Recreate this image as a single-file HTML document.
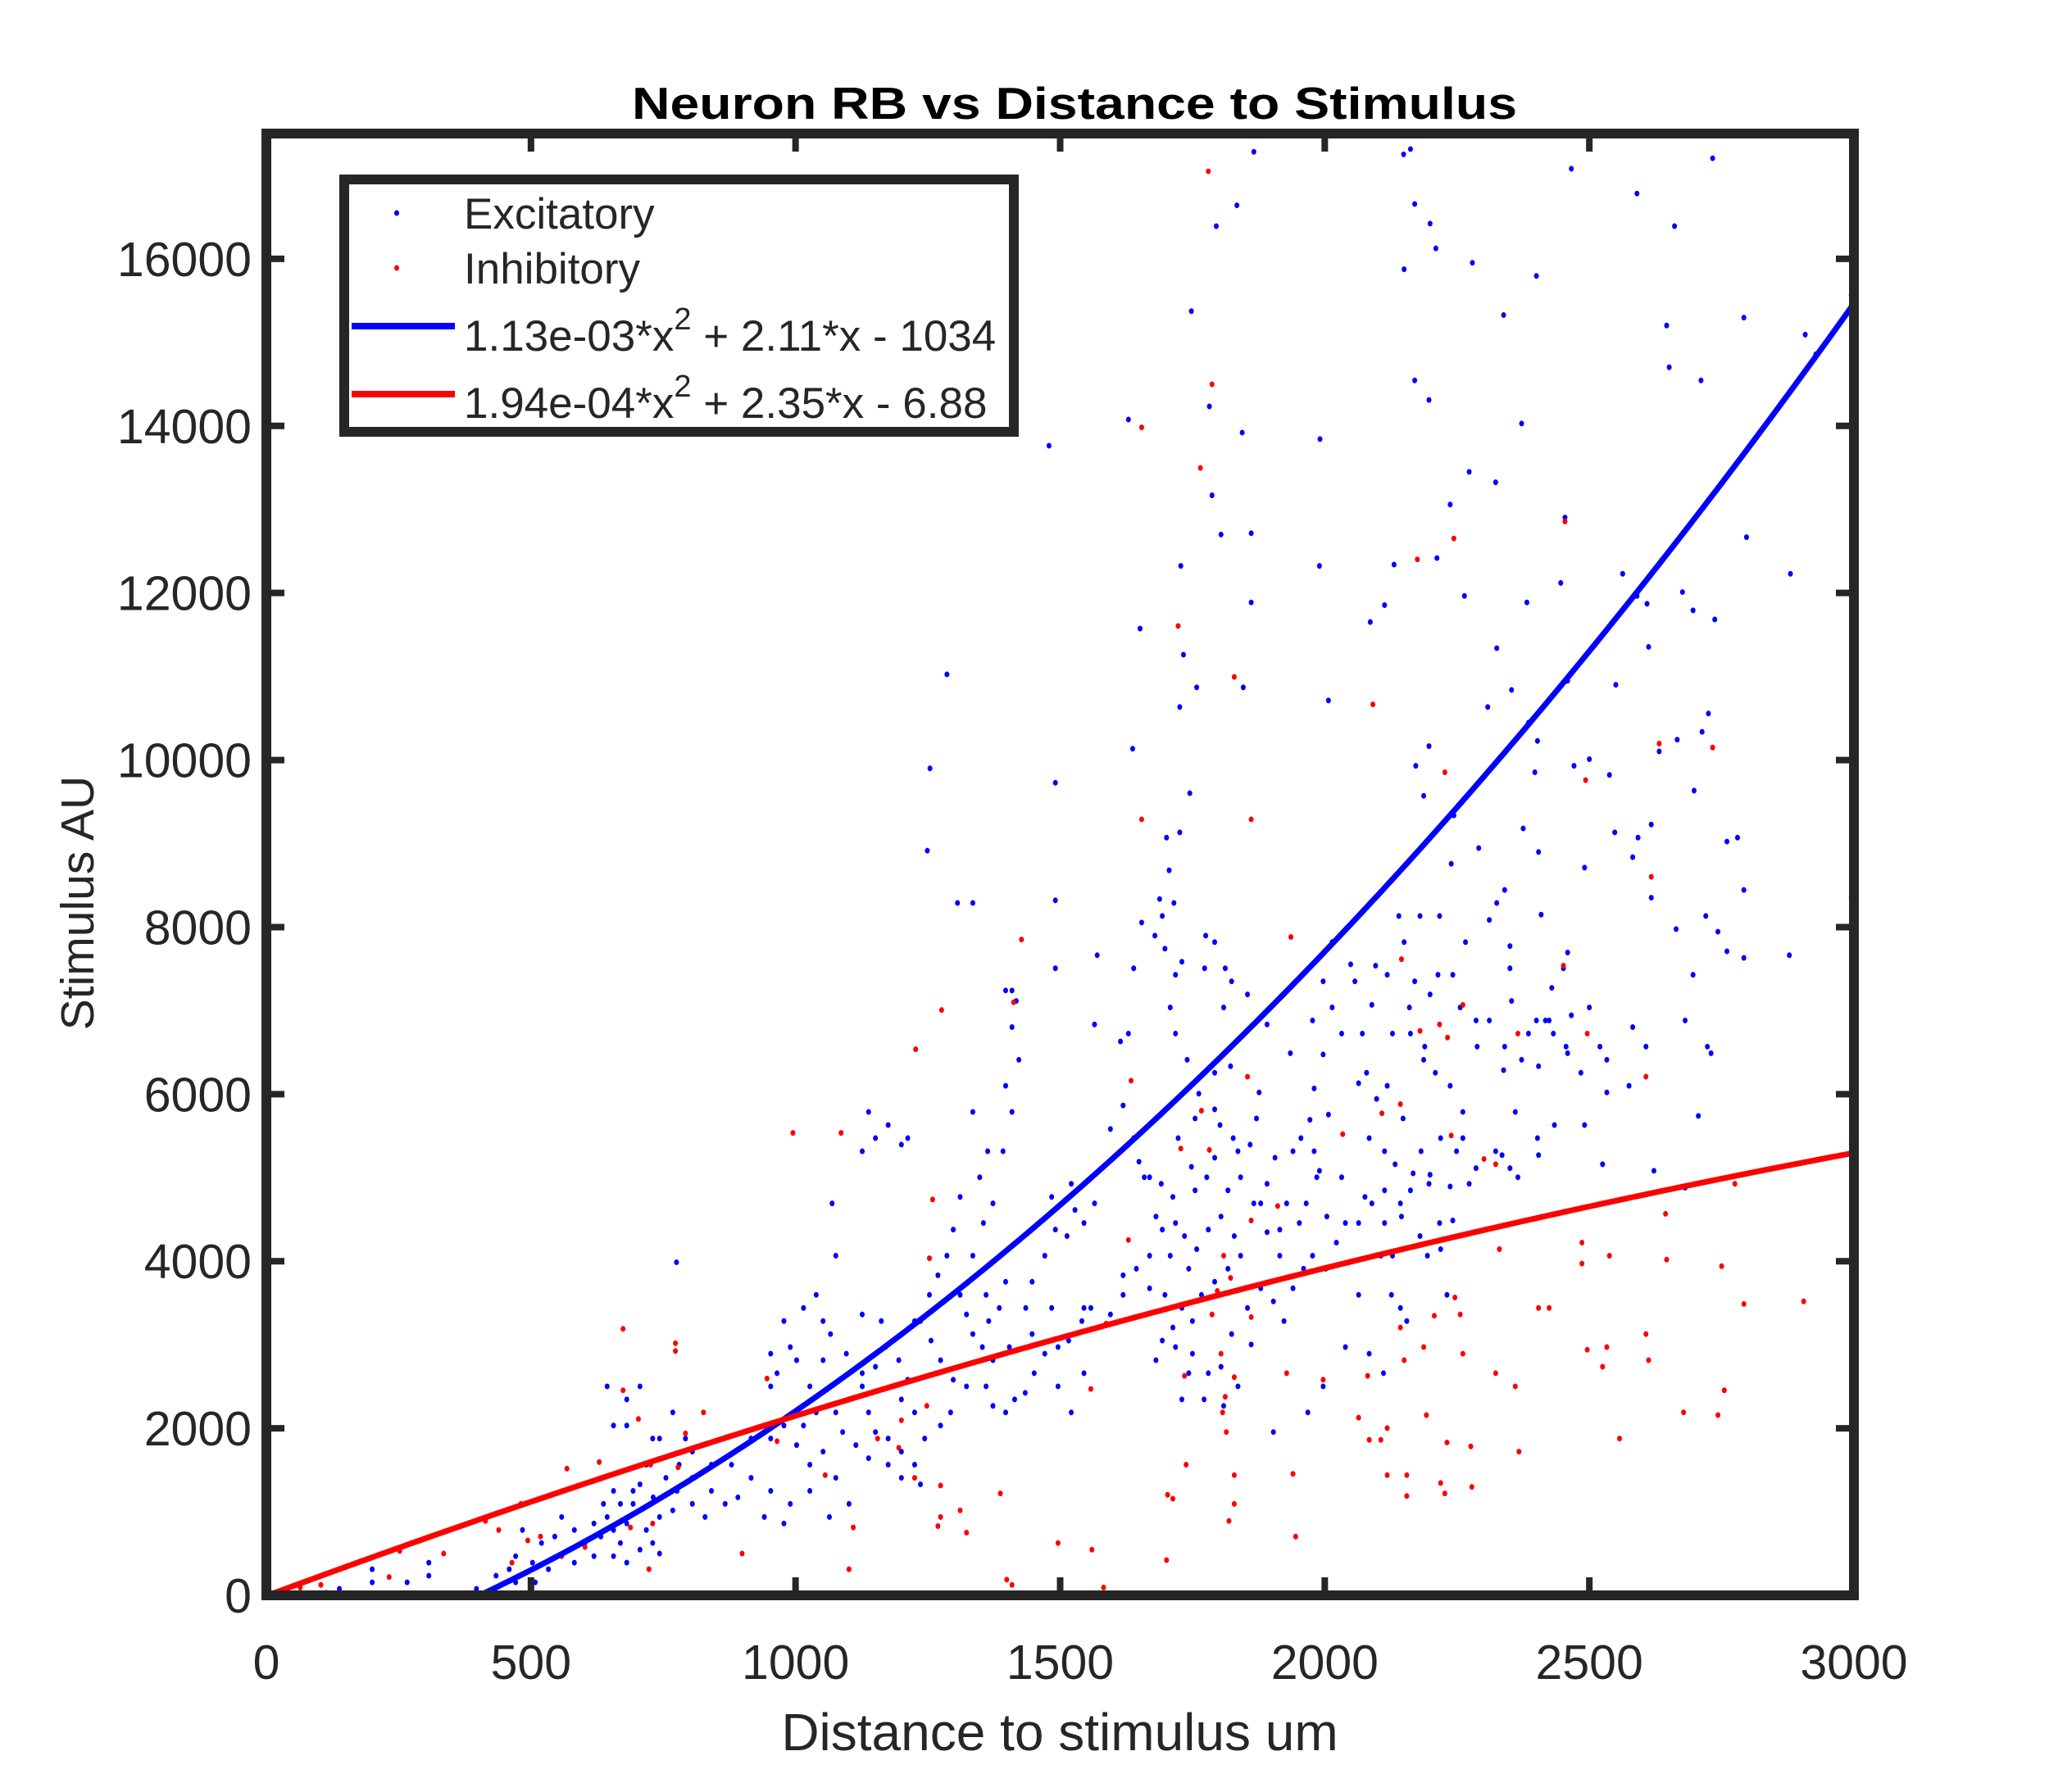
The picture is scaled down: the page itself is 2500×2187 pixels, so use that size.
<!DOCTYPE html>
<html><head><meta charset="utf-8"><style>
html,body{margin:0;padding:0;background:#fff}
svg{display:block}
text{font-family:"Liberation Sans",Arial,sans-serif;fill:#262626}
</style></head><body>
<svg id="chart" width="2500" height="2187" viewBox="0 0 2500 2187" xmlns="http://www.w3.org/2000/svg">
<defs><clipPath id="plotclip"><rect x="325" y="163" width="1937" height="1784"/></clipPath></defs>
<rect x="0" y="0" width="2500" height="2187" fill="#fff"/>
<g id="points" clip-path="url(#plotclip)"></g>
<g id="fits" clip-path="url(#plotclip)"></g>
<g id="axes"></g>
<text x="1311" y="145" text-anchor="middle" font-size="55" font-weight="bold" textLength="1080" lengthAdjust="spacingAndGlyphs" style="fill:#000">Neuron RB vs Distance to Stimulus</text>
<text x="1293" y="2136" text-anchor="middle" font-size="64">Distance to stimulus um</text>
<text x="0" y="0" text-anchor="middle" font-size="57" transform="translate(114,1102) rotate(-90)">Stimulus AU</text>
<g>
<rect x="420" y="219" width="817" height="308" fill="#fff" stroke="#262626" stroke-width="12"/>
<g>
<ellipse cx="484" cy="260" rx="3" ry="3.5" fill="#0000ff"/>
<text x="566" y="279" font-size="53">Excitatory</text></g>
<g>
<ellipse cx="484" cy="327" rx="3" ry="3.5" fill="#ff0000"/>
<text x="566" y="346" font-size="53">Inhibitory</text></g>
<g>
<line x1="429" y1="398" x2="555" y2="398" stroke="#0000ff" stroke-width="8"/>
<text x="566" y="428" font-size="53">1.13e-03*x<tspan font-size="38" dy="-26">2</tspan><tspan dy="26"> + 2.11*x - 1034</tspan></text></g>
<g>
<line x1="429" y1="481" x2="555" y2="481" stroke="#ff0000" stroke-width="8"/>
<text x="566" y="510" font-size="53">1.94e-04*x<tspan font-size="38" dy="-26">2</tspan><tspan dy="26"> + 2.35*x - 6.88</tspan></text></g>
</g>
</svg>
<script>
const xTicks = [0,500,1000,1500,2000,2500,3000];
const yTicks = [0,2000,4000,6000,8000,10000,12000,14000,16000];
const xLim = [0,3000];
const yLim = [0,17500];
const blueCoef = [1.13e-3, 2.11, -1034];
const redCoef = [-1.94e-4, 2.35, -6.88];
const excX = [1390,1866,2149,2162,2170,2199,1834,1795,2466,2590,2661,2733,2150,2210,2279,2400,2338,2646,2651,2711,2792,2908,2928,2995,3000,2880,2797,2737,2170,2197,1748,1195,1479,1629,1782,1844,1991,2273,2323,2237,2372,2454,2563,2609,2676,2696,1787,1804,1728,1861,1990,2113,2131,2212,2264,2382,2446,2325,2353,2385,2402,2550,2590,2612,2459,2471,2538,2666,2725,2713,2698,1861,1651,1846,2007,2086,1733,2197,2172,2308,2397,2187,2244,2291,2375,2404,2340,2325,2239,2217,2266,2311,2350,2409,2491,2548,2592,2500,2632,2780,2760,2792,2743,2760,2792,2696,2681,2723,2730,2706,2575,2582,2520,2533,2525,2491,2456,2432,2424,2400,2466,2459,2451,2429,2350,2353,2385,2372,2338,2340,2288,2286,2256,2242,2214,2199,2160,2170,2150,2140,2180,2118,2089,2096,2049,2057,2014,1997,2014,2032,2071,2079,2098,2128,2162,2189,2209,2187,2237,2261,2261,2219,2182,2148,2118,2064,2007,1972,1955,1980,1990,2032,2084,2113,2133,2113,2143,2167,2199,2162,2076,2039,2004,1952,1928,1940,1906,1891,1866,1836,1827,1802,1792,1792,1822,1809,1824,1854,1891,1977,1997,1980,1935,1876,1871,1859,1841,1817,1792,1777,1755,1748,1723,1755,1762,1740,1718,1708,1698,1679,1688,1706,1701,1726,1745,1775,1792,1812,1773,1730,1718,1693,1715,1654,1639,1629,1614,1639,1649,1669,1691,1713,1681,1718,1735,1758,1780,1804,1829,1841,1817,1792,1767,1743,1708,1693,1669,1644,1669,1698,1730,1750,1713,1693,1718,1750,1780,1804,1824,1854,1879,1903,1923,1861,1836,1809,1772,1743,1681,1619,1595,1558,1541,1516,1496,1484,1513,1545,1565,1521,1528,1484,1491,1471,1447,1435,1447,1471,1451,1434,1414,1397,1373,1360,1373,1353,1335,1323,1311,1360,1397,1385,1365,1404,1335,1355,1373,1348,1363,1335,1397,1409,1397,1417,1422,1409,1392,1311,1298,1286,1269,1253,1236,1256,1274,1298,1323,1293,1274,1244,1225,1200,1212,1195,1170,1151,1126,1138,1151,1175,1200,1225,1236,1200,1175,1138,1114,1089,1076,1101,1126,1096,1066,1052,1027,1039,1015,1002,1027,1052,1076,1101,1064,1027,990,978,953,941,916,891,867,841,829,805,776,768,743,731,755,780,805,792,768,743,718,706,693,681,669,656,681,706,718,730,743,656,644,669,693,656,637,619,602,582,558,545,520,503,484,471,459,434,397,307,307,266,200,200,138,64,113,471,508,533,582,619,632,644,656,681,706,775,681,730,805,841,879,916,953,978,953,965,1002,990,953,978,1015,1039,1052,1076,1069,1126,1151,1175,1200,1212,1138,1126,1162,1225,1249,1254,1286,1306,1335,1409,1491,1491,1491,1570,1565,1595,1619,1659,1619,1545,1496,1521,1545,1730,2039,1997,1968,1903,2064,2106,2128,2126,2143,2155,2084,2111,2231,2273,2323,2286,2335,2365,2404,2311,2360,2417,2402,2404,2434,2459,2484,2500,2533,2607,2617,2582,2617,2664,2720,2878,2622,2681,2350,2249,2237,2197,2242,2217,2219,2194,2180,2145,2113,2089,2064,2022,2046,2002,1977,1960,1940,1915,1891,1879,1915,1965,1985,1637,1726,1758];
const excY = [16766,17282,17251,17314,16657,16422,16641,16391,17079,16782,16391,17204,15875,16125,15953,15796,15327,15202,14702,14545,15296,15093,14858,15562,13529,12230,12668,11683,14545,14311,15374,15421,13763,14076,14233,13920,13842,13450,13325,13059,14029,12903,12230,11871,12011,11792,13169,12700,12324,12715,12324,11855,12340,12418,11965,11887,12121,11339,10839,10447,10229,10901,11965,11355,10948,9931,9822,10244,10557,10338,9634,11887,11574,10870,10713,11652,11261,10166,9931,10635,9853,9572,9337,8946,9181,8899,8445,8289,8758,8133,7820,8086,7773,8149,8712,9134,9071,10010,10104,9071,9024,8445,7945,7710,7632,7429,6882,6569,6490,5740,6100,6803,6569,6021,5161,5630,6569,6725,6882,6882,6944,7695,7507,7273,7507,7116,6725,6412,6287,6569,6569,6882,7038,7429,7429,7194,7038,7351,7820,8133,8133,7429,7069,7538,7554,7351,7820,7351,7038,6725,6725,6256,5943,6725,6725,6569,6256,6412,6100,5787,5474,5474,5317,5709,6100,6131,5756,5693,5474,5317,5083,5005,5474,5317,5161,4848,4692,5052,5036,4848,4770,4457,4535,4457,4692,5317,5239,4927,4692,5317,5474,5630,5818,6256,6334,7038,7351,7194,6835,6882,6475,6068,6490,6021,5709,5396,5005,4848,5239,5005,4848,5130,5474,5709,6006,6412,6725,7038,7742,7898,8336,8680,9071,9134,9603,7898,7820,7507,7507,7585,7429,8133,8289,8055,7507,6725,6631,5474,5192,5005,4927,4770,4535,4457,4301,4144,4379,4535,4301,4066,3910,3754,3597,3910,4066,4379,4066,3910,3676,3597,3441,3284,3206,3050,2972,2893,2659,2737,3128,3441,3676,3519,3284,3003,2502,2268,2346,2659,2815,3597,3363,3441,3284,3050,2972,3441,4301,4457,4692,4927,4614,4770,4379,4066,3754,3441,3128,2893,2659,2424,2346,2190,2268,2502,2815,2972,3128,3363,3597,3597,3754,3441,3284,2972,4066,4457,4692,5005,5317,5787,6100,6803,7241,7116,6412,5787,5317,4770,4379,4066,3832,3597,3284,3050,2815,2581,2502,2190,2033,1877,2190,2346,2581,2815,2972,2737,2502,2190,1955,1877,1720,1564,1329,1407,1564,1642,1799,1955,2190,2346,2659,2893,3128,2815,2502,2190,2033,1799,1564,1720,1407,1095,938,1251,1095,860,1251,938,1407,1173,1095,1251,938,1095,1251,1017,938,1173,1407,1564,1720,1877,2190,1877,1564,1329,1095,860,626,469,391,547,782,626,500,782,938,1095,1251,1251,1095,860,626,782,938,704,626,391,782,469,313,235,78,235,391,156,313,156,78,31,31,156,156,313,391,469,704,2502,2033,2346,2502,3988,2033,1877,1407,1564,1564,1877,1877,2033,2502,2659,2815,2972,2893,3284,3441,3597,3284,4066,4692,5317,5474,5630,5396,5474,5787,3363,3284,3284,8915,9900,11026,8289,8289,7241,7507,8320,9728,7663,6835,5583,5865,5005,3832,2659,2502,2190,3441,2346,2972,2502,2190,1955,3597,4066,4066,3597,3441,3284,2893,2659,3597,4927,5317,5114,5270,5005,5270,6882,5787,6882,5474,6334,5630,6490,6256,7038,6412,6569,8352,8837,9228,7976,8133,7663,5083,4880,5114,5317,4895,4927,4488,4457,4144,4066,4301,4535,4457,4692,4457,4223,3988,3910,4066,3910,3676,4066,4348,4692,4379,4692,5005,10135,10635,10870];
const inhX = [1780,1787,1654,1765,2175,2244,2454,1723,1829,2091,2632,2733,2493,2227,1861,1654,2617,2995,1427,1412,1276,1227,1086,995,1936,2145,2217,2261,2180,2232,2108,2143,2034,2365,2451,2496,2607,2239,2301,1634,1782,1854,1767,1728,1861,1911,1809,1797,1822,1787,1861,1804,1829,1735,1812,1807,1814,1829,1819,1738,1703,1701,1829,1713,1940,1945,2064,2106,2084,2118,2118,2155,2155,2192,2219,2227,2231,2276,2278,2143,2207,2256,2246,2323,2330,2404,2360,2424,2323,2367,2533,2525,2486,2486,2538,2496,2557,2612,2607,2646,2678,2750,2755,2792,2905,2775,2743,2644,1928,1997,2081,2150,2187,2261,1629,1587,1558,1560,1582,1496,1409,1399,1387,1323,1311,1269,1274,1274,1248,1200,1195,1253,1259,1225,1155,1101,1109,1056,965,946,899,826,792,773,773,778,726,723,703,674,674,688,730,602,558,518,464,481,439,335,252,232,64,103,568,629,494,414];
const inhY = [17048,14498,13982,13497,12402,12653,12856,11605,10995,10666,10197,10150,9759,9853,9290,9290,8602,8352,7851,7100,7007,6538,5536,5536,7882,7616,6835,7069,6757,6678,5771,5881,5521,6725,7538,6725,6209,5505,5224,6162,5333,6209,5802,5349,4488,4661,4066,3644,3800,3363,3331,2893,2612,2628,2377,2190,1955,1095,891,1564,1204,422,1439,1157,1454,704,2127,1861,1861,2002,1439,1439,1189,2158,1345,1220,1830,1783,1298,3206,3347,3363,3566,5161,4144,3441,2502,3441,2659,1720,2972,2737,4223,3972,4066,2940,1877,2815,3128,4019,2190,3941,2455,3488,3519,4927,2158,4567,2659,2581,2628,2815,2972,2893,4254,3253,2471,547,94,626,125,188,1220,751,1017,829,938,1314,2268,2096,1767,4035,4739,1407,1877,313,813,1439,1845,2596,500,2190,1939,3018,2925,1533,1564,313,2111,3190,2455,813,860,579,469,704,391,1095,782,500,532,219,94,125,1517,1595,657,891];

const NS='http://www.w3.org/2000/svg';
const L=325,R=2262,T=163,B=1947;
function sx(v){return L+(v-xLim[0])/(xLim[1]-xLim[0])*(R-L);}
function sy(v){return B-(v-yLim[0])/(yLim[1]-yLim[0])*(B-T);}
function mk(tag,attrs,parent){const e=document.createElementNS(NS,tag);for(const k in attrs)e.setAttribute(k,attrs[k]);parent.appendChild(e);return e;}

const pts=document.getElementById('points');
for(let i=0;i<excX.length;i++){
  const c=mk('ellipse',{cx:sx(excX[i]),cy:sy(excY[i]),rx:3,ry:3.5,fill:'#0000ff'},pts);
  
  
}
for(let i=0;i<inhX.length;i++){
  const c=mk('ellipse',{cx:sx(inhX[i]),cy:sy(inhY[i]),rx:3,ry:3.5,fill:'#ff0000'},pts);
  
  
}

const fits=document.getElementById('fits');
function curve(coef,color,name){
  let d='';
  for(let x=0;x<=3000;x+=10){
    const y=coef[0]*x*x+coef[1]*x+coef[2];
    d+=(x===0?'M':'L')+sx(x).toFixed(2)+','+sy(y).toFixed(2);
  }
  const p=mk('path',{d:d,fill:'none',stroke:color,'stroke-width':7,'stroke-linejoin':'round'},fits);
  
  
}
curve(blueCoef,'#0000ff','excitatory-fit-curve');
curve(redCoef,'#ff0000','inhibitory-fit-curve');

const ax=document.getElementById('axes');
const frame=mk('rect',{x:L,y:T,width:R-L,height:B-T,fill:'none',stroke:'#262626','stroke-width':12},ax);


xTicks.forEach(v=>{
  const x=sx(v);
  if(v!==xLim[0]&&v!==xLim[1]){
    mk('line',{x1:x,y1:B,x2:x,y2:B-22,stroke:'#262626','stroke-width':8},ax);
    mk('line',{x1:x,y1:T,x2:x,y2:T+22,stroke:'#262626','stroke-width':8},ax);
  }
  const t=mk('text',{x:x,y:2049,'text-anchor':'middle','font-size':59},ax);
  t.textContent=v;
  
  
});
yTicks.forEach(v=>{
  const y=sy(v);
  if(v!==yLim[0]){
    mk('line',{x1:L,y1:y,x2:L+22,y2:y,stroke:'#262626','stroke-width':8},ax);
    mk('line',{x1:R,y1:y,x2:R-22,y2:y,stroke:'#262626','stroke-width':8},ax);
  }
  const t=mk('text',{x:307,y:y+21,'text-anchor':'end','font-size':59},ax);
  t.textContent=v;
  
  
});
</script>
</body></html>
